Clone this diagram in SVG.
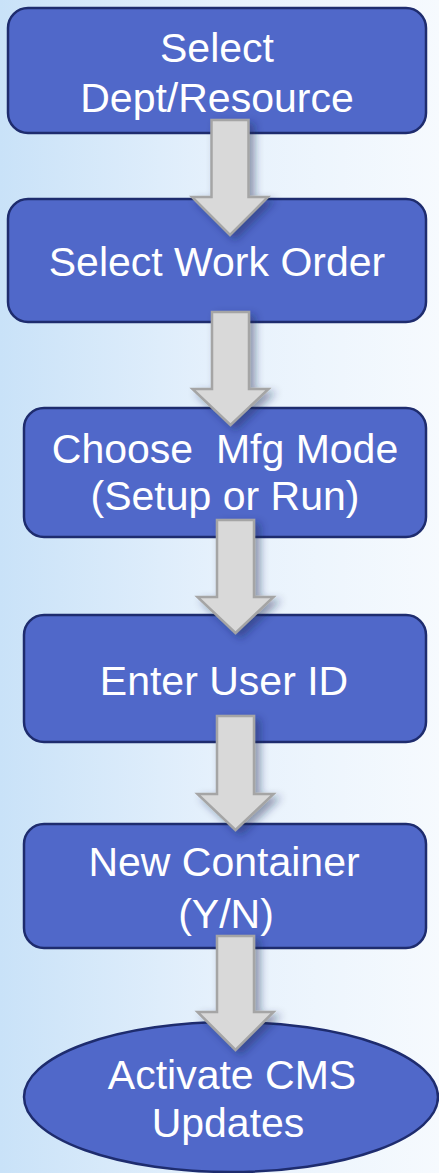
<svg xmlns="http://www.w3.org/2000/svg" width="439" height="1173" viewBox="0 0 439 1173">
<defs>
<linearGradient id="bg" x1="0" y1="0" x2="1" y2="0">
<stop offset="0" stop-color="#C9E2F8"/>
<stop offset="0.5" stop-color="#E6F1FC"/>
<stop offset="1" stop-color="#F6FAFE"/>
</linearGradient>
<filter id="sh" x="-30%" y="-30%" width="160%" height="160%">
<feDropShadow dx="5" dy="4" stdDeviation="4" flood-color="#1a2550" flood-opacity="0.45"/>
</filter>
<style>
.box{fill:#5068C9;stroke:#1E2C6E;stroke-width:2.5}
.t{font-family:"Liberation Sans",Arial,sans-serif;font-size:41px;fill:#FFFFFF;text-anchor:middle}
.arr{fill:#D9D9D9;stroke:#A5A5A5;stroke-width:2.5;stroke-linejoin:miter;filter:url(#sh)}
</style>
</defs>
<rect x="0" y="0" width="439" height="1173" fill="url(#bg)"/>
<g id="n1"><rect class="box" x="8" y="8" width="418" height="125" rx="20"/>
<text class="t" x="217" y="62">Select</text><text class="t" x="217" y="112">Dept/Resource</text></g>
<g id="n2"><rect class="box" x="8" y="199" width="418" height="123" rx="20"/>
<text class="t" x="217" y="276">Select Work Order</text></g>
<g id="n3"><rect class="box" x="24" y="408" width="402" height="129" rx="20"/>
<text class="t" x="225" y="463" xml:space="preserve">Choose  Mfg Mode</text><text class="t" x="225" y="510">(Setup or Run)</text></g>
<g id="n4"><rect class="box" x="24" y="615" width="402" height="127" rx="20"/>
<text class="t" x="224" y="695">Enter User ID</text></g>
<g id="n5"><rect class="box" x="24" y="824" width="402" height="124" rx="20"/>
<text class="t" x="224" y="876">New Container</text><text class="t" x="226" y="928">(Y/N)</text></g>
<g id="n6"><ellipse class="box" cx="231" cy="1097" rx="207" ry="75"/>
<text class="t" x="232" y="1089">Activate CMS</text><text class="t" x="228" y="1137">Updates</text></g>
<g id="connectors">
<polygon class="arr" points="211.5,120 248.5,120 248.5,197 268,197 230,235 192,197 211.5,197"/>
<polygon class="arr" points="212,312 249,312 249,389 268.5,389 230.5,425 192.5,389 212,389"/>
<polygon class="arr" points="217,520 254,520 254,597 273.5,597 235.5,633 197.5,597 217,597"/>
<polygon class="arr" points="217,716 254,716 254,794 273.5,794 235.5,830 197.5,794 217,794"/>
<polygon class="arr" points="217,936 254,936 254,1012 273.5,1012 235.5,1050 197.5,1012 217,1012"/>
</g>
</svg>
